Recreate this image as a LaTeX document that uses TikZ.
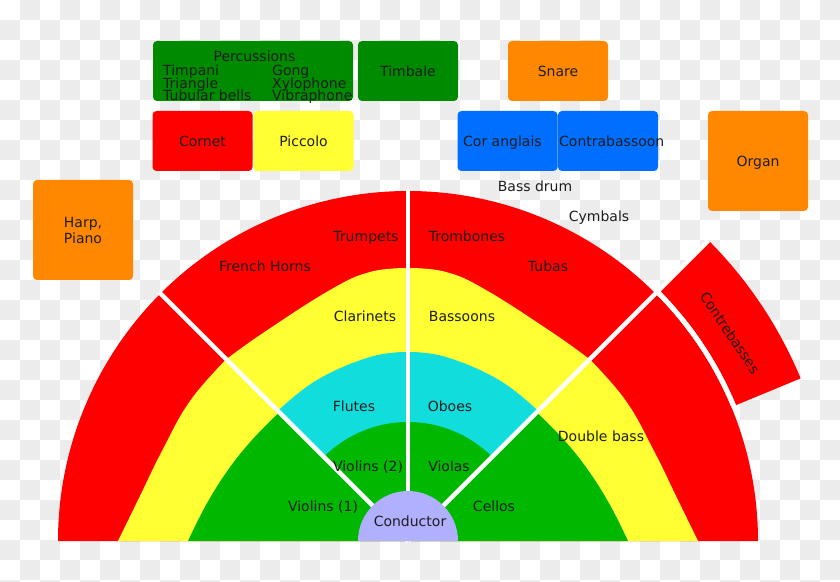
\documentclass[tikz,border=0pt]{standalone}
\usepackage{fontspec}
\setmainfont{DejaVu Sans}
\usetikzlibrary{calc,positioning}

\definecolor{ringred}{RGB}{255,0,0}
\definecolor{ringyellow}{RGB}{255,255,51}
\definecolor{ringgreen}{RGB}{0,184,0}
\definecolor{ringcyan}{RGB}{17,221,221}
\definecolor{percgreen}{RGB}{0,138,0}
\definecolor{boxorange}{RGB}{255,136,0}
\definecolor{boxblue}{RGB}{0,110,255}
\definecolor{condlilac}{RGB}{176,176,255}
\definecolor{checker}{RGB}{236,236,236}
\definecolor{inkgray}{RGB}{30,30,30}

\begin{document}
\begin{tikzpicture}[x=1pt, y=1pt,
    txt/.style={font=\fontsize{14}{16}\selectfont, text=inkgray},
    lbl/.style={txt, inner sep=0pt, text height=10.2pt, text depth=0pt},
    box/.style={lbl, rounded corners=4pt, minimum width=100pt, minimum height=60pt},
    sep/.style={white, line width=4.3pt}]

    \useasboundingbox (0,0) rectangle (840,581);

    % Checker background
    \fill[white] (0,0) rectangle (840,581);
    \foreach \i in {0,...,41} {
        \foreach \j in {0,...,29} {
            \pgfmathparse{int(mod(\i+\j,2))}
            \ifnum\pgfmathresult=1
                \fill[checker] (20*\i,561-20*\j) rectangle ++(20,20);
            \fi
        }
    }

    \coordinate (C) at (408,40);

    % Rings (left half, then mirrored)
    \foreach \s in {1,-1} {
        \begin{scope}[xshift={(1-\s)*408}, xscale=\s]
            % side sector
            \fill[ringred] (C) -- ++(180:350) arc[start angle=180, end angle=135, radius=350] -- cycle;
            \fill[ringyellow] (C) -- plot[smooth, tension=0.7] coordinates {(118,40) (140,85) (162,130) (190,180) (226.3,221.7)} -- cycle;
            \fill[ringgreen] (C) -- plot[smooth, tension=0.7] coordinates {(188,40) (206,76) (228,111) (252,141) (279.3,168.7)} -- cycle;
            % upper sector
            \fill[ringred] (C) -- ++(135:350) arc[start angle=135, end angle=90, radius=350] -- cycle;
            \fill[ringyellow] (C) -- plot[smooth, tension=0.7] coordinates {(226.3,221.7) (263,248) (330,291) (370,309) (408,313)} -- cycle;
            \fill[ringcyan] (C) -- plot[smooth, tension=0.7] coordinates {(277.9,170.1) (317,201) (370,224) (408,229)} -- cycle;
            \fill[ringgreen] (C) -- ++(135:119) arc[start angle=135, end angle=90, radius=119] -- cycle;
        \end{scope}
    }

    % Contrebasses
    \fill[ringred] ($(C)+(22.5:355)$) arc[start angle=22.5, end angle=45, radius=355]
        -- ($(C)+(45:425)$) arc[start angle=45, end angle=22.5, radius=425] -- cycle;
    \draw[white, line width=5pt] ($(C)+(22.5:352.5)$) arc[start angle=22.5, end angle=45, radius=352.5];

    % Separators
    \foreach \a/\r in {135/352, 90/352, 45/425} {
        \draw[sep] (C) -- ++(\a:\r);
    }

    % Conductor
    \fill[condlilac] ($(C)+(50,0)$) arc[start angle=0, end angle=180, radius=50] -- cycle;
    \node[lbl] (cond) at (410,60) {Conductor};

    % Ring labels
    \foreach \t/\n/\x/\y in {Trumpets/trp/366/345, French Horns/hrn/265/315, Trombones/trb/467/345,
        Tubas/tba/548/315, Clarinets/cla/365/265, Bassoons/bsn/462/265, Flutes/fl/354/175,
        Oboes/ob/450/175, Violins (2)/vnb/368/115, Violas/vla/449/115, Violins (1)/vna/323/75,
        Cellos/vc/494/75, Double bass/db/601/145} {
        \node[lbl] (\n) at (\x,\y) {\t};
    }
    \node[lbl, rotate=-56] (cbs) at (730,248) {Contrebasses};
    \node[lbl] (bdr) at (535,395) {Bass drum};
    \node[lbl] (cym) at (599,365) {Cymbals};

    % Boxes
    \node[box, fill=percgreen, minimum width=200pt] (perc) at (253,510) {};
    \node[lbl] (perc-title) at (254.5,525) {Percussions};
    \foreach \t/\y [count=\k] in {Timpani/511, Triangle/498, Tubular bells/486} {
        \node[lbl, anchor=west] (perc-a\k) at (163,\y) {\t};
    }
    \foreach \t/\y [count=\k] in {Gong/511, Xylophone/498, Vibraphone/486} {
        \node[lbl, anchor=west] (perc-b\k) at (272,\y) {\t};
    }
    \node[box, fill=percgreen] (timb) at (408,510) {Timbale};
    \node[box, fill=boxorange] (snare) at (558,510) {Snare};
    \node[box, fill=ringred] (cornet) at (202.5,440) {Cornet};
    \node[box, fill=ringyellow] (picc) at (303.5,440) {Piccolo};
    \node[box, fill=boxblue] (cang) at (507.5,440) {};
    \node[lbl, anchor=west] (cang-t) at (463,440) {Cor anglais};
    \node[box, fill=boxblue] (cbsn) at (608,440) {};
    \node[lbl, anchor=west] (cbsn-t) at (559,440) {Contrabassoon};
    \node[box, fill=boxorange, minimum height=100pt] (organ) at (758,420) {Organ};
    \node[box, fill=boxorange, minimum height=100pt] (harp) at (83,351) {};
    \node[txt, align=center, inner sep=0pt] (harp-t) at (harp.center) {Harp,\\Piano};

\end{tikzpicture}
\end{document}
